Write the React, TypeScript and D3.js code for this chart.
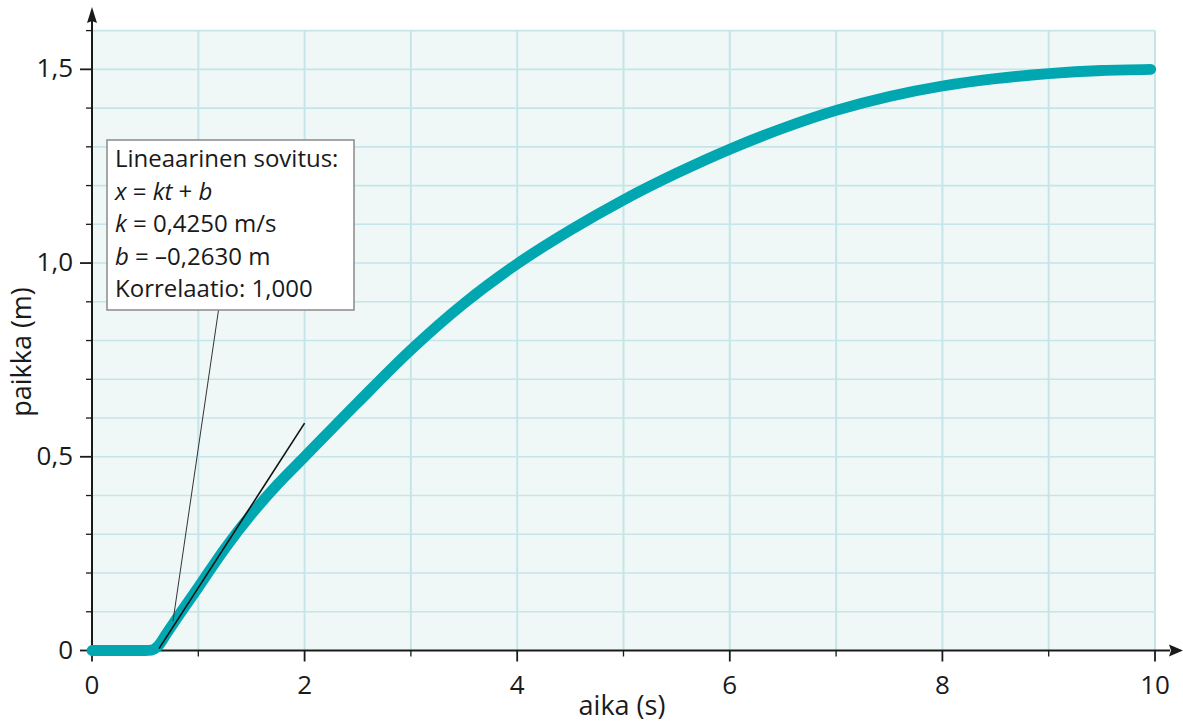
import React from "react";
import * as d3 from "d3";

// ---- data ----
const timeValues = [0, 0.25, 0.5, 0.56, 0.62, 0.7, 0.8, 1.0, 1.25, 1.5, 1.75, 2.0, 2.5, 3.0, 3.5, 4.0, 4.5, 5.0, 5.5, 6.0, 6.5, 7.0, 7.5, 8.0, 8.5, 9.0, 9.5, 9.96];
const positionValues = [0, 0, 0, 0.001, 0.011, 0.043, 0.084, 0.163, 0.263, 0.352, 0.43, 0.5, 0.64, 0.776, 0.896, 0.998, 1.085, 1.163, 1.232, 1.294, 1.348, 1.394, 1.43, 1.457, 1.476, 1.489, 1.497, 1.5];

const fitK = 0.425;
const fitB = -0.263;
const fitRange = [0.63, 2.0];

const xMajorTicks = [0, 2, 4, 6, 8, 10];
const xMinorTicks = [1, 3, 5, 7, 9];
const yMajorTicks = [0, 0.5, 1.0, 1.5];
const yMinorTicks = [0.1, 0.2, 0.3, 0.4, 0.6, 0.7, 0.8, 0.9, 1.1, 1.2, 1.3, 1.4, 1.6];
const xGrid = [1, 2, 3, 4, 5, 6, 7, 8, 9, 10];
const yGrid = [0.1, 0.2, 0.3, 0.4, 0.5, 0.6, 0.7, 0.8, 0.9, 1.0, 1.1, 1.2, 1.3, 1.4, 1.5, 1.6];

const fmt = (v: number) => (v === 0 ? "0" : v.toFixed(1).replace(".", ","));

export default function App() {
  const W = 1183, H = 723;
  const x = d3.scaleLinear().domain([0, 10]).range([92, 1155]);
  const y = d3.scaleLinear().domain([0, 1.6]).range([650.5, 30.6]);
  const font = "'Open Sans', sans-serif";
  const teal = "#00a7b0";
  const gridColor = "#c6e5e8";

  const pts: [number, number][] = timeValues.map((t, i) => [t, positionValues[i]]);
  const line = d3.line<[number, number]>().x(d => x(d[0])).y(d => y(d[1])).curve(d3.curveMonotoneX);

  const fitPts: [number, number][] = fitRange.map(t => [t, fitK * t + fitB]);
  const fitLine = d3.line<[number, number]>().x(d => x(d[0])).y(d => y(d[1]));

  const x0 = x(0), y0 = y(0);
  const boxX = 107, boxY = 140, boxW = 247, boxH = 170;
  const tx = 115;
  const lh = 32.5;
  const b0 = 167;

  return (
    <svg width={W} height={H} style={{ position: "absolute", left: 0, top: 0 }} fontFamily={font}>
      <rect x={x0} y={y(1.6)} width={x(10) - x0} height={y0 - y(1.6)} fill="#eff7f7" />
      {xGrid.map(v => (
        <line key={"gx" + v} x1={x(v)} x2={x(v)} y1={y(1.6)} y2={y0} stroke={gridColor} strokeWidth={2} />
      ))}
      {yGrid.map(v => (
        <line key={"gy" + v} x1={x0} x2={x(10)} y1={y(v)} y2={y(v)} stroke={gridColor} strokeWidth={1.6} />
      ))}

      {/* axes */}
      <line x1={x0} x2={1170} y1={y0} y2={y0} stroke="#1a1a1a" strokeWidth={2} />
      <path d={`M1183,${y0} L1169,${y0 - 6} L1171,${y0} L1169,${y0 + 6} Z`} fill="#1a1a1a" />
      <line x1={x0} x2={x0} y1={y0} y2={20} stroke="#1a1a1a" strokeWidth={2} />
      <path d={`M${x0},7 L${x0 - 5},23 L${x0},21 L${x0 + 5},23 Z`} fill="#1a1a1a" />

      {xMajorTicks.map(v => (
        <g key={"xt" + v}>
          <line x1={x(v)} x2={x(v)} y1={y0} y2={y0 + 11} stroke="#1a1a1a" strokeWidth={1.8} />
          <text x={x(v)} y={694} fontSize={26} textAnchor="middle" fill="#1a1a1a">{String(v)}</text>
        </g>
      ))}
      {xMinorTicks.map(v => (
        <line key={"xm" + v} x1={x(v)} x2={x(v)} y1={y0} y2={y0 + 6} stroke="#1a1a1a" strokeWidth={1.3} />
      ))}
      {yMajorTicks.map(v => (
        <g key={"yt" + v}>
          <line x1={x0 - 12} x2={x0} y1={y(v)} y2={y(v)} stroke="#1a1a1a" strokeWidth={1.8} />
          <text x={73} y={y(v) + 8} fontSize={26} textAnchor="end" fill="#1a1a1a">{fmt(v)}</text>
        </g>
      ))}
      {yMinorTicks.map(v => (
        <line key={"ym" + v} x1={x0 - 6} x2={x0} y1={y(v)} y2={y(v)} stroke="#1a1a1a" strokeWidth={1.3} />
      ))}

      <text x={622} y={715} fontSize={27} textAnchor="middle" fill="#1a1a1a">aika (s)</text>
      <text transform={`translate(31,352) rotate(-90)`} fontSize={27} textAnchor="middle" fill="#1a1a1a">paikka (m)</text>

      {/* data */}
      <path d={line(pts) || ""} fill="none" stroke={teal} strokeWidth={10.8} strokeLinecap="round" strokeLinejoin="round" />

      {/* fit line */}
      <path d={fitLine(fitPts) || ""} fill="none" stroke="#111" strokeWidth={1.6} />

      {/* leader */}
      <line x1={218.5} y1={boxY + boxH} x2={173} y2={621} stroke="#333" strokeWidth={1} />

      {/* text box */}
      <rect x={boxX} y={boxY} width={boxW} height={boxH} fill="#fff" stroke="#8a8a8a" strokeWidth={1.5} />
      <g fontSize={24} fill="#1a1a1a">
        <text x={tx} y={b0}>Lineaarinen sovitus:</text>
        <text x={tx} y={b0 + lh}>
          <tspan fontStyle="italic">x</tspan> = <tspan fontStyle="italic">kt</tspan> + <tspan fontStyle="italic">b</tspan>
        </text>
        <text x={tx} y={b0 + 2 * lh}>
          <tspan fontStyle="italic">k</tspan> = 0,4250 m/s
        </text>
        <text x={tx} y={b0 + 3 * lh}>
          <tspan fontStyle="italic">b</tspan> = –0,2630 m
        </text>
        <text x={tx} y={b0 + 4 * lh}>Korrelaatio: 1,000</text>
      </g>
    </svg>
  );
}
